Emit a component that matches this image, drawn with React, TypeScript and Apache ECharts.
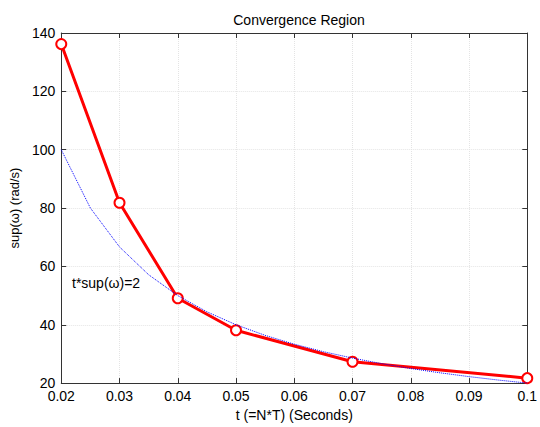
import React, { useEffect, useRef } from "react";
import * as echarts from "echarts";

const redT = [0.02, 0.03, 0.04, 0.05, 0.07, 0.1];
const redSup = [136.2, 81.8, 49.1, 38.1, 27.3, 21.7];

const blueT = [0.02, 0.025, 0.03, 0.035, 0.04, 0.045, 0.05, 0.055, 0.06, 0.065, 0.07, 0.075, 0.08, 0.085, 0.09, 0.095, 0.1];
const blueSup = [100, 80, 66.67, 57.14, 50, 44.44, 40, 36.36, 33.33, 30.77, 28.57, 26.67, 25, 23.53, 22.22, 21.05, 20];

const xTicks = ["0.02", "0.03", "0.04", "0.05", "0.06", "0.07", "0.08", "0.09", "0.1"];
const yTicks = ["20", "40", "60", "80", "100", "120", "140"];

const titleText = "Convergence Region";
const xName = "t (=N*T) (Seconds)";
const yName = "sup(\u03c9) (rad/s)";
const noteText = "t*sup(\u03c9)=2";

const FONT = "'Liberation Sans', Arial, Helvetica, sans-serif";

export default function App() {
  const ref = useRef<HTMLDivElement>(null);
  useEffect(() => {
    if (!ref.current) return;
    const chart = echarts.init(ref.current, undefined, { renderer: "svg" });
    const xFmt = (v: number) => {
      const i = Math.round((v - 0.02) / 0.01);
      return xTicks[i] ?? "";
    };
    const yFmt = (v: number) => {
      const i = Math.round((v - 20) / 20);
      return yTicks[i] ?? "";
    };
    const axisLine = { show: true, lineStyle: { color: "#333", width: 1 } };
    const splitLine = { show: true, lineStyle: { color: "#e4e4e4", type: "dotted" as const, width: 1 } };
    chart.setOption({
      animation: false,
      backgroundColor: "#fff",
      textStyle: { fontFamily: FONT },
      title: {
        text: titleText,
        left: 294,
        top: 8,
        textAlign: "center",
        textStyle: { fontFamily: FONT, fontSize: 14, fontWeight: "normal", color: "#000" },
      },
      grid: { left: 59, width: 469, top: 33, height: 360 },
      xAxis: [
        {
          type: "value",
          min: 0.02,
          max: 0.1,
          interval: 0.01,
          name: xName,
          nameLocation: "middle",
          nameGap: 24,
          nameTextStyle: { fontFamily: FONT, fontSize: 14, color: "#000" },
          axisLine,
          axisTick: { show: true, inside: true, length: 5, lineStyle: { color: "#333" } },
          axisLabel: { formatter: xFmt, fontFamily: FONT, fontSize: 14, color: "#000", margin: 6 },
          splitLine,
        },
        {
          type: "value",
          position: "top",
          min: 0.02,
          max: 0.1,
          interval: 0.01,
          axisLine,
          axisTick: { show: true, inside: true, length: 5, lineStyle: { color: "#333" } },
          axisLabel: { show: false },
          splitLine: { show: false },
        },
      ],
      yAxis: [
        {
          type: "value",
          min: 20,
          max: 140,
          interval: 20,
          name: yName,
          nameLocation: "middle",
          nameGap: 33,
          nameRotate: 90,
          nameTextStyle: { fontFamily: FONT, fontSize: 13, color: "#000" },
          axisLine,
          axisTick: { show: true, inside: true, length: 5, lineStyle: { color: "#333" } },
          axisLabel: { formatter: yFmt, fontFamily: FONT, fontSize: 14, color: "#000", margin: 6 },
          splitLine,
        },
        {
          type: "value",
          position: "right",
          min: 20,
          max: 140,
          interval: 20,
          axisLine,
          axisTick: { show: true, inside: true, length: 5, lineStyle: { color: "#333" } },
          axisLabel: { show: false },
          splitLine: { show: false },
        },
      ],
      graphic: [
        {
          type: "text",
          x: 72,
          y: 283,
          style: {
            text: noteText,
            fontFamily: FONT,
            fontSize: 14,
            fill: "#000",
            textAlign: "left",
            textVerticalAlign: "middle",
          },
        },
      ],
      series: [
        {
          type: "line",
          data: redT.map((t, i) => [t, redSup[i]]),
          symbol: "emptyCircle",
          symbolSize: 10,
          showAllSymbol: true,
          lineStyle: { color: "#ff0000", width: 3 },
          itemStyle: { color: "#ff0000", borderColor: "#ff0000", borderWidth: 2.2 },
          z: 2,
        },
        {
          type: "line",
          data: blueT.map((t, i) => [t, blueSup[i]]),
          showSymbol: false,
          symbol: "none",
          lineStyle: { color: "#0000ff", width: 1, type: "dotted" },
          z: 3,
        },
      ],
    });
    return () => chart.dispose();
  }, []);
  return (
    <div
      ref={ref}
      style={{ position: "fixed", left: 0, top: 0, width: 540, height: 427, background: "#fff" }}
    />
  );
}
